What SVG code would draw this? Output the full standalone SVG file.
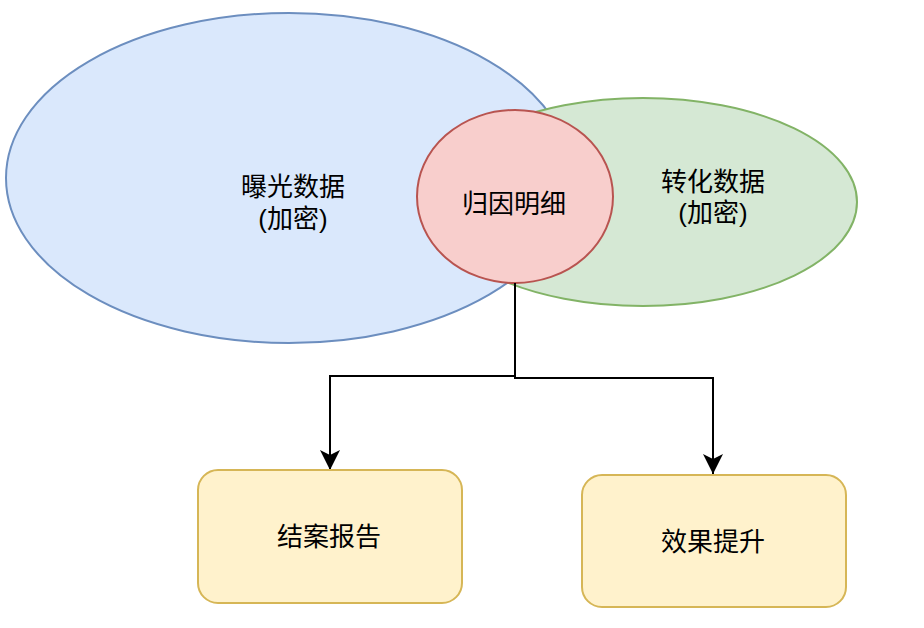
<svg xmlns="http://www.w3.org/2000/svg" width="924" height="628" viewBox="0 0 924 628">
<defs>
<style>
text{font-family:"Liberation Sans","Noto Sans CJK SC",sans-serif;font-size:26px;fill:#000;text-anchor:middle}
.e{stroke-width:2}
.edge{fill:none;stroke:#000;stroke-width:2}
</style>
<marker id="arr" viewBox="0 0 20 20" markerWidth="20" markerHeight="20" refX="20" refY="10" orient="auto" markerUnits="userSpaceOnUse">
<path d="M20,10 L0,0 L5,10 L0,20 Z" fill="#000"/>
</marker>
</defs>
<rect width="924" height="628" fill="#fff"/>
<g id="exposure">
<ellipse class="e" cx="289" cy="178" rx="283" ry="165" fill="#dae8fc" stroke="#6c8ebf"/>
<text x="293" y="196">曝光数据</text>
<text x="293" y="228">(加密)</text>
</g>
<g id="conversion">
<ellipse class="e" cx="643" cy="202" rx="214" ry="104" fill="#d5e8d4" stroke="#82b366"/>
<text x="713" y="191">转化数据</text>
<text x="713" y="222">(加密)</text>
</g>
<g id="attribution">
<ellipse class="e" cx="515" cy="196.5" rx="98" ry="86.5" fill="#f8cecc" stroke="#b85450"/>
<text x="514" y="213">归因明细</text>
</g>
<g id="connectors">
<path class="edge" d="M515,283 V376 H330 V470" marker-end="url(#arr)"/>
<path class="edge" d="M515,283 V378 H713 V474" marker-end="url(#arr)"/>
</g>
<g id="report">
<rect class="e" x="198" y="470" width="264" height="133" rx="20" fill="#fff2cc" stroke="#d6b656"/>
<text x="329" y="546">结案报告</text>
</g>
<g id="improve">
<rect class="e" x="582" y="475" width="264" height="132" rx="20" fill="#fff2cc" stroke="#d6b656"/>
<text x="713" y="551">效果提升</text>
</g>
</svg>
